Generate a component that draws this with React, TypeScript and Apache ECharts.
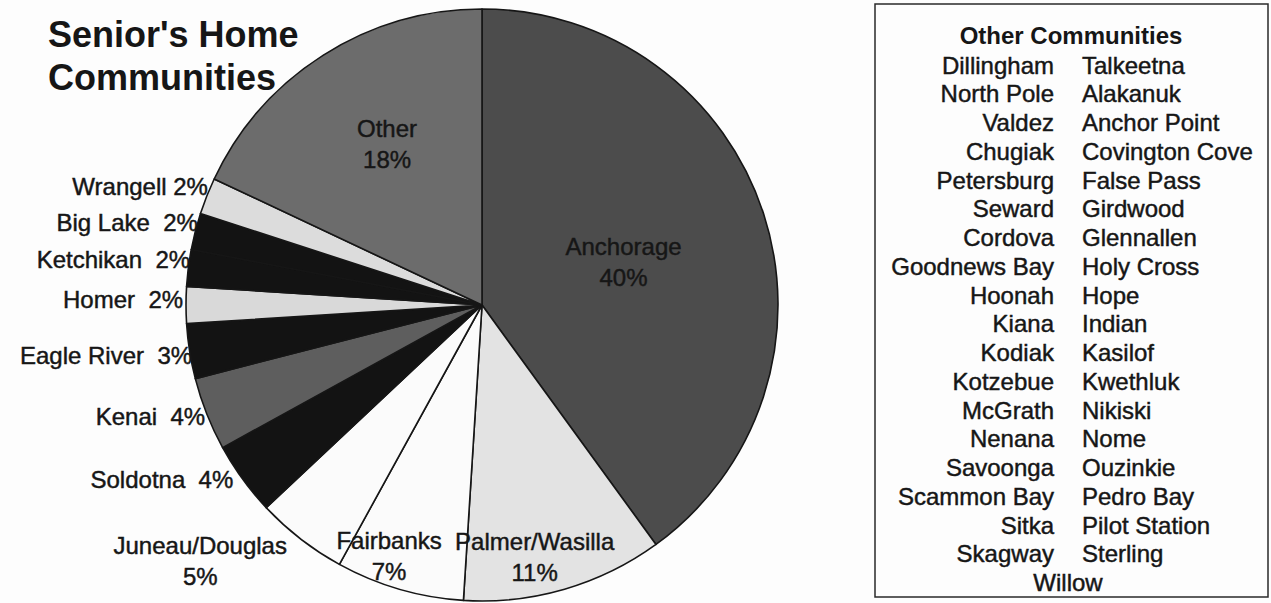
import React, { useEffect, useRef } from "react";
import * as echarts from "echarts";

// ---------- data ----------
const sliceNames = [
  "Anchorage",
  "Palmer/Wasilla",
  "Fairbanks",
  "Juneau/Douglas",
  "Soldotna",
  "Kenai",
  "Eagle River",
  "Homer",
  "Ketchikan",
  "Big Lake",
  "Wrangell",
  "Other",
];
const sliceValues = [40, 11, 7, 5, 4, 4, 3, 2, 2, 2, 2, 18];

const titleLines = ["Senior's Home", "Communities"];
const listTitle = "Other Communities";
const listLeft = [
  "Dillingham", "North Pole", "Valdez", "Chugiak", "Petersburg", "Seward",
  "Cordova", "Goodnews Bay", "Hoonah", "Kiana", "Kodiak", "Kotzebue",
  "McGrath", "Nenana", "Savoonga", "Scammon Bay", "Sitka", "Skagway",
];
const listRight = [
  "Talkeetna", "Alakanuk", "Anchor Point", "Covington Cove", "False Pass",
  "Girdwood", "Glennallen", "Holy Cross", "Hope", "Indian", "Kasilof",
  "Kwethluk", "Nikiski", "Nome", "Ouzinkie", "Pedro Bay", "Pilot Station",
  "Sterling",
];
const listLast = ["Willow"];

// ---------- styles / layout ----------
const sliceColors = [
  "#4c4c4c", "#e3e3e3", "#fbfbfb", "#fbfbfb", "#131313", "#5e5e5e",
  "#131313", "#d9d9d9", "#131313", "#131313", "#dcdcdc", "#6c6c6c",
];
// separator between name and percentage
const labelSep = ["\n", "\n", "\n", "\n", "  ", "  ", "  ", "  ", "  ", "  ", " ", "\n"];
// [radius fraction, angle offset (deg), align]
const labelPlace: [number, number, string][] = [
  [0.5, 1, "center"],
  [0.87, 4.4, "center"],
  [0.905, 4.1, "center"],
  [1.287, 9.9, "center"],
  [1.027, 0.9, "right"],
  [1.009, -0.4, "right"],
  [0.994, -0.8, "right"],
  [1.01, 1, "right"],
  [0.998, 1.6, "right"],
  [0.999, 1.7, "right"],
  [1.008, 1.7, "right"],
  [0.632, 1.9, "center"],
];

const W = 1271;
const H = 603;
const PIE_CX = 482;
const PIE_CY = 305;
const PIE_R = 296;
const FONT = '"Liberation Sans", Arial, Helvetica, sans-serif';
const INK = "#161616";
const INK_STROKE = 0.45;

function labelPos(i: number) {
  const total = sliceValues.reduce((a, b) => a + b, 0);
  let cum = 0;
  for (let k = 0; k < i; k++) cum += sliceValues[k];
  const [rf, dA] = labelPlace[i];
  const theta = (((cum + sliceValues[i] / 2) / total) * 360 + dA) * Math.PI / 180;
  const rr = rf * PIE_R;
  return { x: PIE_CX + rr * Math.sin(theta), y: PIE_CY - rr * Math.cos(theta) };
}

function txt(text: string, x: number, y: number, align: string, font: string, stroke: number) {
  return {
    type: "text",
    x,
    y,
    silent: true,
    style: {
      text,
      fill: INK,
      font,
      align,
      textAlign: align,
      verticalAlign: "middle",
      textVerticalAlign: "middle",
      stroke: stroke > 0 ? INK : undefined,
      lineWidth: stroke,
    },
  };
}

export default function App() {
  const ref = useRef<HTMLDivElement>(null);

  useEffect(() => {
    if (!ref.current) return;
    const chart = echarts.init(ref.current, undefined, { renderer: "svg" });

    const listFont = `24px ${FONT}`;
    const rowY0 = 65;
    const rowStep = 28.75;
    const graphics: any[] = [];
    titleLines.forEach((t, i) => graphics.push(txt(t, 48, 34 + i * 43, "left", `bold 36px ${FONT}`, 0)));
    graphics.push({
      type: "rect",
      silent: true,
      shape: { x: 875, y: 4, width: 393, height: 593 },
      style: { fill: "none", stroke: "#2a2a2a", lineWidth: 1.5 },
    });
    graphics.push(txt(listTitle, 1071, 35, "center", `bold 24px ${FONT}`, 0));
    listLeft.forEach((t, i) => graphics.push(txt(t, 1054, rowY0 + i * rowStep, "right", listFont, INK_STROKE)));
    listRight.forEach((t, i) => graphics.push(txt(t, 1082, rowY0 + i * rowStep, "left", listFont, INK_STROKE)));
    listLast.forEach((t, i) =>
      graphics.push(txt(t, 1068, rowY0 + (listLeft.length + i) * rowStep, "center", listFont, INK_STROKE))
    );

    chart.setOption({
      animation: false,
      backgroundColor: "#fdfdfd",
      graphic: { elements: graphics },
      series: [
        {
          type: "pie",
          silent: true,
          center: [PIE_CX, PIE_CY],
          radius: PIE_R,
          startAngle: 90,
          clockwise: true,
          avoidLabelOverlap: false,
          itemStyle: { borderColor: "#161616", borderWidth: 1.6 },
          label: {
            show: true,
            position: "inside",
            color: INK,
            textBorderColor: INK,
            textBorderWidth: INK_STROKE,
            fontFamily: FONT,
            fontSize: 24,
            lineHeight: 31,
            formatter: (p: any) => `${p.name}${labelSep[p.dataIndex]}${p.value}%`,
          },
          labelLine: { show: false },
          labelLayout: (p: any) => {
            const pos = labelPos(p.dataIndex);
            return {
              x: pos.x,
              y: pos.y,
              align: labelPlace[p.dataIndex][2],
              verticalAlign: "middle",
            };
          },
          emphasis: { disabled: true },
          data: sliceNames.map((name, i) => ({
            name,
            value: sliceValues[i],
            itemStyle: { color: sliceColors[i] },
          })),
        },
      ],
    });

    return () => chart.dispose();
  }, []);

  return (
    <div
      ref={ref}
      style={{ position: "fixed", left: 0, top: 0, width: W, height: H }}
    />
  );
}
